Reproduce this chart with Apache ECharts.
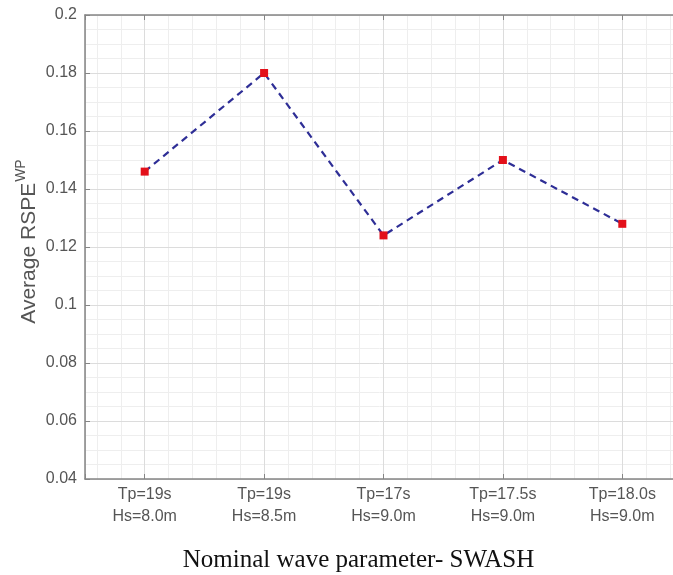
<!DOCTYPE html>
<html>
<head>
    <meta charset='utf-8'>
    <script src="https://cdn.jsdelivr.net/npm/echarts@6/dist/echarts.min.js"></script>
</head>
<body>
<style>
    html, body, #main {
        width: 100%;
        height: 100%;
        margin: 0;
        padding: 0;
        background: #fff;
    }
</style>
<div id="main"></div>
<script>
    // wave cases along the x axis (positions 1..5)
    var categories = ['Tp=19s\nHs=8.0m', 'Tp=19s\nHs=8.5m', 'Tp=17s\nHs=9.0m', 'Tp=17.5s\nHs=9.0m', 'Tp=18.0s\nHs=9.0m'];
    var rspeValues = [0.146, 0.180, 0.124, 0.150, 0.128];
    var yTicks = {min: 0.04, max: 0.2, interval: 0.02};

    var chart = echarts.init(document.getElementById('main'));

    var data = rspeValues.map(function (v, i) {
        return [i + 1, v];
    });

    var plotLeft = 85, plotTop = 15, plotW = 597, plotH = 464;
    var axisGray = '#858585';
    var majorGrid = '#dcdcdc';
    var minorGrid = '#eeeeee';

    var option = {
        backgroundColor: '#fff',
        animation: false,
        grid: [
            {left: plotLeft, top: plotTop, width: plotW, height: plotH, outerBoundsMode: 'none', containLabel: false},
            // helper grid, shifted by 0.1 unit, only for the vertical minor lines
            {left: plotLeft + plotW / 50, top: plotTop, width: plotW, height: plotH, outerBoundsMode: 'none', containLabel: false}
        ],
        xAxis: [{
            type: 'value',
            gridIndex: 0,
            min: 0.5,
            max: 5.5,
            splitNumber: 5,
            z: 2,
            axisLine: {lineStyle: {color: axisGray, width: 1.5}},
            axisTick: {inside: true, length: 5, lineStyle: {color: axisGray}},
            axisLabel: {
                color: '#555',
                fontFamily: 'Liberation Sans, Arial, sans-serif',
                fontSize: 16,
                lineHeight: 22,
                margin: 5,
                formatter: function (v) {
                    return (Math.abs(v - Math.round(v)) < 1e-6 && categories[v - 1]) ? categories[v - 1] : '';
                }
            },
            splitLine: {show: true, lineStyle: {color: majorGrid, width: 1}},
            name: 'Nominal wave parameter- SWASH',
            nameLocation: 'middle',
            nameGap: 69,
            nameMoveOverlap: false,
            nameTextStyle: {
                color: '#111',
                fontFamily: 'Liberation Serif, Times New Roman, serif',
                fontSize: 25,
                padding: [0, 50, 0, 0]
            }
        }, {
            type: 'value',
            gridIndex: 0,
            position: 'top',
            min: 0.5,
            max: 5.5,
            splitNumber: 5,
            z: 2,
            axisLine: {lineStyle: {color: axisGray, width: 1.5}},
            axisTick: {inside: true, length: 5, lineStyle: {color: axisGray}},
            axisLabel: {show: false},
            splitLine: {show: false}
        }, {
            type: 'value',
            gridIndex: 1,
            min: 0.6,
            max: 5.6,
            interval: 0.2,
            z: 0,
            axisLine: {show: false},
            axisTick: {show: false},
            axisLabel: {show: false},
            splitLine: {show: true, lineStyle: {color: minorGrid, width: 1}}
        }],
        yAxis: [{
            type: 'value',
            gridIndex: 0,
            min: yTicks.min,
            max: yTicks.max,
            interval: yTicks.interval,
            z: 2,
            axisLine: {show: true, lineStyle: {color: axisGray, width: 1.5}},
            axisTick: {show: true, inside: true, length: 5, lineStyle: {color: axisGray}},
            axisLabel: {
                color: '#555',
                fontFamily: 'Liberation Sans, Arial, sans-serif',
                fontSize: 16,
                margin: 8
            },
            splitLine: {show: true, lineStyle: {color: majorGrid, width: 1}},
            minorTick: {show: false, splitNumber: 4},
            minorSplitLine: {show: true, lineStyle: {color: minorGrid, width: 1}},
            name: '{a|Average RSPE}{sup|WP}',
            nameLocation: 'middle',
            nameGap: 45,
            nameMoveOverlap: false,
            nameTextStyle: {
                padding: [0, 0, 0, 11],
                rich: {
                    a: {
                        color: '#555',
                        fontFamily: 'Liberation Sans, Arial, sans-serif',
                        fontSize: 21,
                        verticalAlign: 'bottom'
                    },
                    sup: {
                        color: '#555',
                        fontFamily: 'Liberation Sans, Arial, sans-serif',
                        fontSize: 14,
                        verticalAlign: 'bottom',
                        padding: [0, 0, 12, 1]
                    }
                }
            }
        }, {
            type: 'value',
            gridIndex: 0,
            position: 'right',
            min: yTicks.min,
            max: yTicks.max,
            interval: yTicks.interval,
            z: 2,
            axisLine: {show: true, lineStyle: {color: axisGray, width: 1.5}},
            axisTick: {show: true, inside: true, length: 5, lineStyle: {color: axisGray}},
            axisLabel: {show: false},
            splitLine: {show: false}
        }, {
            type: 'value',
            gridIndex: 1,
            min: 0,
            max: 1,
            show: false
        }],
        series: [{
            type: 'line',
            xAxisIndex: 0,
            yAxisIndex: 0,
            data: data,
            symbol: 'rect',
            symbolSize: 8,
            z: 5,
            itemStyle: {color: '#e3101a'},
            lineStyle: {color: '#2e2e96', width: 2.2, type: [7, 5]}
        }]
    };

    chart.setOption(option);
</script>
</body>
</html>
